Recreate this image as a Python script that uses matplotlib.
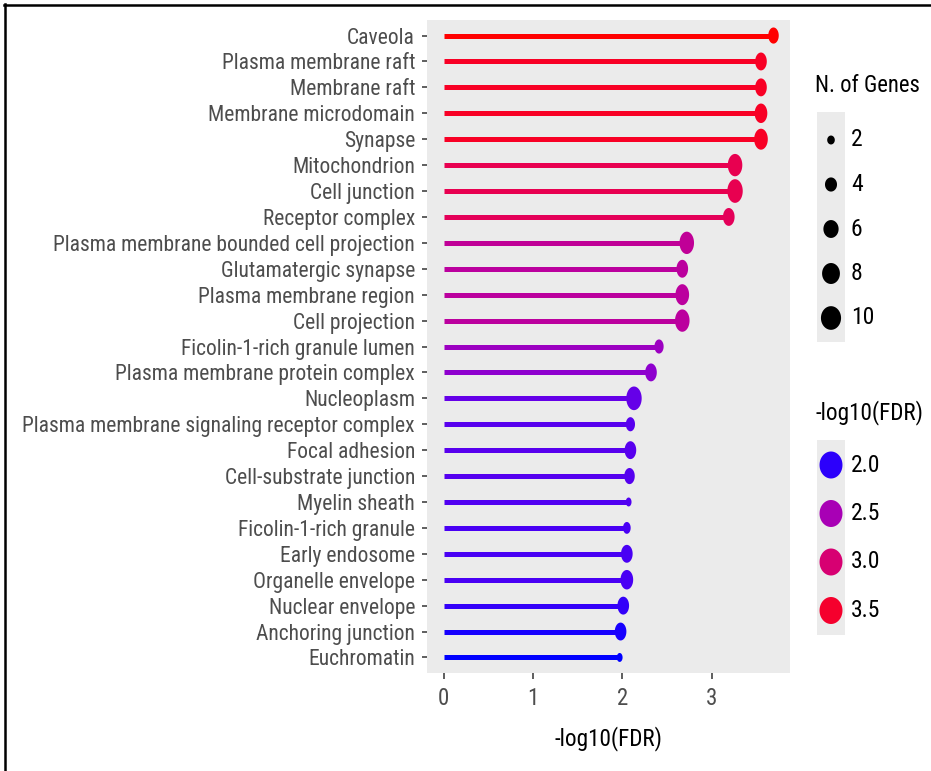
import numpy as np
import matplotlib
matplotlib.use("Agg")
import matplotlib.pyplot as plt
from matplotlib.path import Path
from matplotlib.lines import Line2D
from matplotlib.patches import Rectangle
from matplotlib import font_manager

# GO cellular-component enrichment, listed top to bottom
terms = [
    "Caveola", "Plasma membrane raft", "Membrane raft", "Membrane microdomain",
    "Synapse", "Mitochondrion", "Cell junction", "Receptor complex",
    "Plasma membrane bounded cell projection", "Glutamatergic synapse",
    "Plasma membrane region", "Cell projection", "Ficolin-1-rich granule lumen",
    "Plasma membrane protein complex", "Nucleoplasm",
    "Plasma membrane signaling receptor complex", "Focal adhesion",
    "Cell-substrate junction", "Myelin sheath", "Ficolin-1-rich granule",
    "Early endosome", "Organelle envelope", "Nuclear envelope",
    "Anchoring junction", "Euchromatin",
]
neg_log10_fdr = [
    3.69, 3.55, 3.55, 3.55, 3.55, 3.26, 3.26, 3.19, 2.72, 2.67, 2.67, 2.67,
    2.41, 2.32, 2.13, 2.09, 2.09, 2.08, 2.07, 2.05, 2.05, 2.05, 2.01, 1.98, 1.97,
]
n_genes = [5, 6, 6, 7, 8, 9, 10, 6, 9, 6, 8, 9, 4, 6, 10, 4, 6, 5, 2, 3, 6, 7, 6, 6, 2]

size_breaks = [2, 4, 6, 8, 10]
color_breaks = [2.0, 2.5, 3.0, 3.5]
x_ticks = [0, 1, 2, 3]

# ---- font: prefer a condensed sans ----
installed = {f.name for f in font_manager.fontManager.ttflist}
FONT = "Liberation Sans"
for cand in ["Liberation Sans Narrow", "Arial Narrow", "Roboto Condensed",
             "Open Sans Condensed", "Nimbus Sans Narrow", "DejaVu Sans Condensed",
             "Liberation Sans"]:
    if cand in installed:
        FONT = cand
        break
plt.rcParams["font.family"] = [FONT, "DejaVu Sans"]

# ---- blue -> red gradient interpolated in CIE Lab ----
WHITE = np.array([0.95047, 1.0, 1.08883])
M = np.array([[0.4124564, 0.3575761, 0.1804375],
              [0.2126729, 0.7151522, 0.0721750],
              [0.0193339, 0.1191920, 0.9503041]])

def to_lab(rgb):
    rgb = np.asarray(rgb, float)
    lin = np.where(rgb <= 0.04045, rgb / 12.92, ((rgb + 0.055) / 1.055) ** 2.4)
    t = (M @ lin) / WHITE
    d = 6 / 29
    f = np.where(t > d ** 3, np.cbrt(t), t / (3 * d * d) + 4 / 29)
    return np.array([116 * f[1] - 16, 500 * (f[0] - f[1]), 200 * (f[1] - f[2])])

def from_lab(lab):
    L, a, b = lab
    fy = (L + 16) / 116
    fx = fy + a / 500
    fz = fy - b / 200
    d = 6 / 29
    f = np.array([fx, fy, fz])
    t = np.where(f > d, f ** 3, 3 * d * d * (f - 4 / 29))
    lin = np.linalg.solve(M, t * WHITE)
    lin = np.clip(lin, 0, 1)
    rgb = np.where(lin <= 0.0031308, 12.92 * lin, 1.055 * lin ** (1 / 2.4) - 0.055)
    return tuple(np.clip(rgb, 0, 1))

LAB_LOW = to_lab([0, 0, 1])
LAB_HIGH = to_lab([1, 0, 0])
vmin, vmax = min(neg_log10_fdr), max(neg_log10_fdr)

def grad(v):
    t = (v - vmin) / (vmax - vmin)
    t = min(max(t, 0), 1)
    return from_lab(LAB_LOW + t * (LAB_HIGH - LAB_LOW))

# ---- point size scale (area ~ gene count), in pixels of height ----
DPI = 100
def size_pt(n):
    h_px = np.sqrt(60 * n - 40)
    return h_px * 72 / DPI

def ellipse_marker(xr):
    th = np.linspace(0, 2 * np.pi, 72)
    return Path(np.column_stack([xr * np.cos(th), np.sin(th)]), closed=True)

point_marker = ellipse_marker(0.65)
key_marker = ellipse_marker(0.85)

W, H = 931, 771
fig = plt.figure(figsize=(W / DPI, H / DPI), dpi=DPI, facecolor="white")
renderer = fig.canvas.get_renderer()

def fit_size(text, width_px, base=16.0):
    """Font size at which `text` spans width_px pixels."""
    t = fig.text(0, 0, text, fontsize=base)
    w = t.get_window_extent(renderer=renderer).width
    t.remove()
    return base * width_px / w

label_fs = fit_size(max(terms, key=len), 395)
title_fs = fit_size("N. of Genes", 105)
xlab_fs = fit_size("-log10(FDR)", 108)

L, R, T, B = 427, 790, 20, 673
ax = fig.add_axes([L / W, 1 - B / H, (R - L) / W, (B - T) / H])
ax.set_facecolor("#EBEBEB")
for s in ax.spines.values():
    s.set_visible(False)

n = len(terms)
ypos = np.arange(n, 0, -1)
colors = [grad(v) for v in neg_log10_fdr]

ax.hlines(ypos, 0, neg_log10_fdr, colors=colors, linewidth=3.6, capstyle="butt", zorder=2)
ax.scatter(neg_log10_fdr, ypos, s=[size_pt(g) ** 2 for g in n_genes], c=colors,
           marker=point_marker, linewidths=0, zorder=3)

rng = vmax - 0
ax.set_xlim(-0.05 * rng, vmax + 0.05 * rng)
ax.set_ylim(0.4, n + 0.6)
ax.set_yticks(ypos)
ax.set_yticklabels(terms, fontsize=label_fs, color="#4D4D4D")
ax.set_xticks(x_ticks)
ax.set_xticklabels([str(t) for t in x_ticks], fontsize=16.5, color="#4D4D4D")
ax.tick_params(axis="y", length=3.6, width=1.1, color="#333333", pad=5)
ax.tick_params(axis="x", length=4, width=1.1, color="#333333", pad=6)
ax.set_xlabel("-log10(FDR)", fontsize=xlab_fs, color="black", labelpad=12)

# ---- overlay in pixel coordinates: legends and frame ----
ov = fig.add_axes([0, 0, 1, 1], facecolor="none")
ov.set_xlim(0, W)
ov.set_ylim(H, 0)
ov.axis("off")

# frame lines on top and left edges
ov.add_line(Line2D([4, W], [4.5, 4.5], color="black", linewidth=1.8))
ov.add_line(Line2D([4.5, 4.5], [4, H], color="black", linewidth=1.8))

KX0, KX1 = 817, 845
kx = (KX0 + KX1) / 2

# size legend
ov.text(815, 85, "N. of Genes", fontsize=title_fs, va="center", ha="left", color="black")
sy = [140 + 44.5 * i for i in range(len(size_breaks))]
ov.add_patch(Rectangle((KX0, 112), KX1 - KX0, 230, facecolor="#EBEBEB", edgecolor="none"))
ov.scatter([kx] * len(size_breaks), sy, s=[size_pt(g) ** 2 for g in size_breaks],
           c="black", marker=key_marker, linewidths=0)
for y, g in zip(sy, size_breaks):
    ov.text(851, y, str(g), fontsize=17, va="center", ha="left", color="black")

# colour legend
ov.text(815, 413, "-log10(FDR)", fontsize=xlab_fs, va="center", ha="left", color="black")
cy = [465 + 48.5 * i for i in range(len(color_breaks))]
ov.add_patch(Rectangle((KX0, 440), KX1 - KX0, 195, facecolor="#EBEBEB", edgecolor="none"))
ov.scatter([kx] * len(color_breaks), cy, s=(27 * 72 / DPI) ** 2,
           c=[grad(v) for v in color_breaks], marker=key_marker, linewidths=0)
for y, v in zip(cy, color_breaks):
    ov.text(851, y, f"{v:.1f}", fontsize=17, va="center", ha="left", color="black")

fig.savefig("out.png", dpi=DPI, facecolor="white")
